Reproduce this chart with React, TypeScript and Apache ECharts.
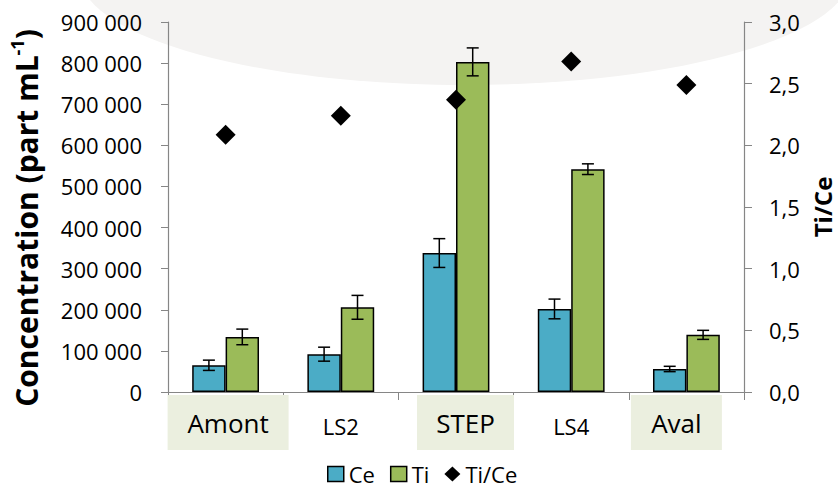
import React, { useEffect, useRef } from "react";
import * as echarts from "echarts";

const categories = ["Amont", "LS2", "STEP", "LS4", "Aval"];
const ceValues = [65000, 92000, 338000, 202000, 56000];
const ceErrors = [12500, 17000, 35000, 24000, 6500];
const tiValues = [134000, 206000, 803000, 542000, 139000];
const tiErrors = [19000, 29000, 34000, 13000, 11000];
const ratioValues = [2.085, 2.24, 2.37, 2.68, 2.49];
const leftTicks = { min: 0, max: 900000, interval: 100000 };
const rightTicks = { min: 0, max: 3, interval: 0.5 };

const BAR_CAT_GAP = 0.42;
const FONT = "Open Sans";

function errData(values: number[], errs: number[]) {
  return values.map((v, i) => [i, v - errs[i], v + errs[i]]);
}

function makeErrRender(side: number) {
  return (params: any, api: any) => {
    const idx = api.value(0);
    const band = api.size([1, 0])[0];
    const barW = (band * (1 - BAR_CAT_GAP)) / 2;
    const cx = api.coord([idx, 0])[0] + (side * barW) / 2;
    const yLow = api.coord([idx, api.value(1)])[1];
    const yHigh = api.coord([idx, api.value(2)])[1];
    const cap = 6;
    const st = { stroke: "#000", lineWidth: 1.5 };
    return {
      type: "group",
      children: [
        { type: "line", shape: { x1: cx, y1: yLow, x2: cx, y2: yHigh }, style: st },
        { type: "line", shape: { x1: cx - cap, y1: yLow, x2: cx + cap, y2: yLow }, style: st },
        { type: "line", shape: { x1: cx - cap, y1: yHigh, x2: cx + cap, y2: yHigh }, style: st },
      ],
    };
  };
}

export default function App() {
  const ref = useRef<HTMLDivElement>(null);
  useEffect(() => {
    if (!ref.current) return;
    const chart = echarts.init(ref.current, null, { renderer: "svg" });
    const boxBg = "#ebefdf";
    const option: any = {
      animation: false,
      backgroundColor: "#fff",
      textStyle: { fontFamily: FONT },
      graphic: [
        {
          id: "bgEllipse",
          type: "ellipse",
          z: -10,
          silent: true,
          shape: { cx: 465, cy: -25, rx: 385, ry: 110 },
          style: { fill: "#f4f3f2" },
        },
      ],
      grid: { left: 168, right: 94, top: 22, bottom: 100, containLabel: false, outerBoundsMode: "none" },
      legend: {
        left: 327,
        top: 463,
        padding: 0,
        itemWidth: 16,
        itemHeight: 15,
        itemGap: 15,
        textStyle: { fontSize: 22, lineHeight: 22, color: "#000", fontFamily: FONT },
        data: [
          { name: "Ce", icon: "rect", itemStyle: { borderColor: "#000", borderWidth: 1.5 } },
          { name: "Ti", icon: "rect", itemStyle: { borderColor: "#000", borderWidth: 1.5 } },
          { name: "Ti/Ce", icon: "diamond", itemStyle: { color: "#000", opacity: 1 } },
        ],
      },
      xAxis: {
        type: "category",
        data: categories,
        axisLine: { lineStyle: { color: "#868686", width: 1.2 } },
        axisTick: { show: true, length: 8, lineStyle: { color: "#868686" } },
        axisLabel: {
          interval: 0,
          margin: 3,
          color: "#000",
          formatter: (v: string) => {
            if (v === "Amont") return "{sp5| }{amont|Amont}";
            if (v === "STEP") return "{sp19| }{step|STEP}";
            if (v === "Aval") return "{aval|Aval}{sp20| }";
            return "{ls|" + v + "}";
          },
          rich: {
            amont: { backgroundColor: boxBg, width: 121, height: 55, lineHeight: 55, align: "center", fontSize: 26, color: "#000", fontFamily: FONT },
            step: { backgroundColor: boxBg, width: 97, height: 55, lineHeight: 55, align: "center", fontSize: 26, color: "#000", fontFamily: FONT },
            aval: { backgroundColor: boxBg, width: 91, height: 55, lineHeight: 55, align: "center", fontSize: 26, color: "#000", fontFamily: FONT },
            ls: { fontSize: 22, height: 55, lineHeight: 61, color: "#000", fontFamily: FONT },
            sp5: { width: 5, height: 55 },
            sp19: { width: 19, height: 55 },
            sp20: { width: 20, height: 55 },
          },
        },
      },
      yAxis: [
        {
          type: "value",
          min: leftTicks.min,
          max: leftTicks.max,
          interval: leftTicks.interval,
          name: "{b|Concentration (part mL}{sup|-1}{b|)}",
          nameLocation: "middle",
          nameRotate: 90,
          nameGap: 124,
          nameTextStyle: {
            padding: [0, 22, 0, 0],
            rich: {
              b: { fontSize: 30, fontWeight: "bold", color: "#000", fontFamily: FONT, lineHeight: 36 },
              sup: { fontSize: 18, fontWeight: "bold", color: "#000", fontFamily: FONT, verticalAlign: "top", lineHeight: 19 },
            },
          },
          axisLine: { show: true, lineStyle: { color: "#868686", width: 1.2 } },
          axisTick: { show: true, length: 7, lineStyle: { color: "#868686" } },
          splitLine: { show: false },
          axisLabel: {
            margin: 26,
            fontSize: 22,
            color: "#000",
            fontFamily: FONT,
            formatter: (v: number) => String(v).replace(/\B(?=(\d{3})+(?!\d))/g, " "),
          },
        },
        {
          type: "value",
          position: "right",
          min: rightTicks.min,
          max: rightTicks.max,
          interval: rightTicks.interval,
          name: "Ti/Ce",
          nameLocation: "middle",
          nameRotate: 90,
          nameGap: 62,
          nameTextStyle: { fontSize: 24, fontWeight: "bold", color: "#000", fontFamily: FONT },
          axisLine: { show: true, lineStyle: { color: "#868686", width: 1.2 } },
          axisTick: { show: true, length: 8, lineStyle: { color: "#868686" } },
          splitLine: { show: false },
          axisLabel: {
            margin: 25,
            fontSize: 22,
            color: "#000",
            fontFamily: FONT,
            formatter: (v: number) => v.toFixed(1).replace(".", ","),
          },
        },
      ],
      series: [
        {
          name: "Ce",
          type: "bar",
          data: ceValues,
          barGap: "0%",
          barCategoryGap: BAR_CAT_GAP * 100 + "%",
          itemStyle: { color: "#4bacc6", borderColor: "#000", borderWidth: 1.5 },
        },
        {
          name: "Ti",
          type: "bar",
          data: tiValues,
          barGap: "0%",
          barCategoryGap: BAR_CAT_GAP * 100 + "%",
          itemStyle: { color: "#9bbb59", borderColor: "#000", borderWidth: 1.5 },
        },
        {
          name: "Ce err",
          type: "custom",
          data: errData(ceValues, ceErrors),
          encode: { x: 0, y: [1, 2] },
          renderItem: makeErrRender(-1),
          z: 5,
          silent: true,
        },
        {
          name: "Ti err",
          type: "custom",
          data: errData(tiValues, tiErrors),
          encode: { x: 0, y: [1, 2] },
          renderItem: makeErrRender(1),
          z: 5,
          silent: true,
        },
        {
          name: "Ti/Ce",
          type: "scatter",
          yAxisIndex: 1,
          data: ratioValues,
          symbol: "diamond",
          symbolSize: 20,
          itemStyle: { color: "#000", opacity: 1 },
          z: 6,
        },
      ],
    };
    chart.setOption(option);
    return () => chart.dispose();
  }, []);
  return (
    <div
      ref={ref}
      style={{ position: "fixed", left: 0, top: 0, width: 838, height: 492, background: "#fff" }}
    />
  );
}
